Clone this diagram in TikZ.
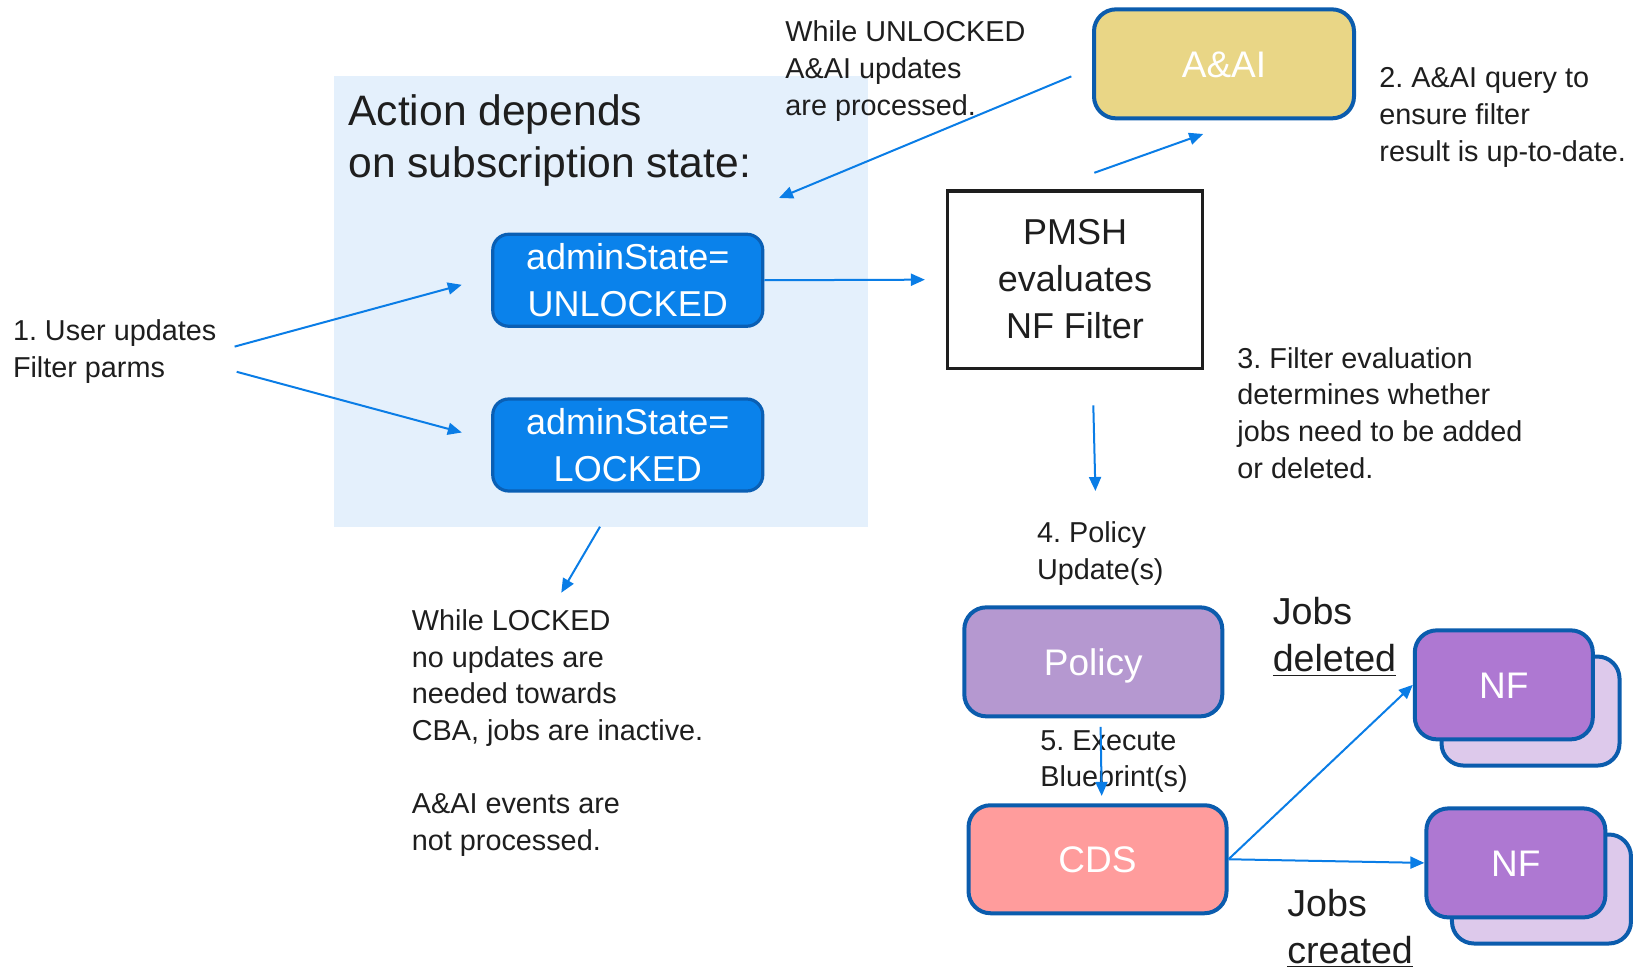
\documentclass[tikz,border=0pt]{standalone}
\usepackage{fontspec}
\setmainfont{Liberation Sans}
\usetikzlibrary{arrows.meta}
\frenchspacing
\definecolor{txt}{HTML}{1E1E1E}
\definecolor{arrowblue}{HTML}{0A7DE6}
\definecolor{bgblue}{HTML}{E4F0FC}
\definecolor{stateblue}{HTML}{0A82EB}
\definecolor{stateborder}{HTML}{0A5FB4}
\definecolor{boxborder}{HTML}{0B5CAD}
\definecolor{aaifill}{HTML}{E9D686}
\definecolor{policyfill}{HTML}{B598D0}
\definecolor{cdsfill}{HTML}{FF9C9C}
\definecolor{nffront}{HTML}{AE78D2}
\definecolor{nfback}{HTML}{DDC9EB}
\tikzset{
  flow/.style={draw=arrowblue, line width=1pt, -{Triangle[length=7pt,width=6pt]}},
  note/.style={anchor=west, align=left, inner sep=0pt, text=txt, font=\fontsize{14.4pt}{18.35pt}\selectfont},
  statebox/.style={draw=stateborder, line width=1.6pt, fill=stateblue, rounded corners=8pt, text=white,
    minimum width=135pt, minimum height=46pt, align=center, inner sep=0pt,
    font=\fontsize{18pt}{23.5pt}\selectfont},
  compbox/.style={draw=boxborder, line width=2pt, rounded corners=11pt, text=white,
    minimum height=54.5pt, align=center, inner sep=0pt, text height=13.4pt, text depth=0pt,
    font=\fontsize{18.5pt}{23pt}\selectfont},
}
\begin{document}
\begin{tikzpicture}[x=0.5pt,y=-0.5pt]
\useasboundingbox (0,0) rectangle (1642,968);
% background panel
\fill[bgblue] (334,76) rectangle (868,527);
\node[note, font=\fontsize{21.3pt}{26pt}\selectfont] (title) at (348,140) {Action depends\\on subscription state:};

% state boxes
\node[statebox] (unl) at (627.75,280.25) {adminState=\\UNLOCKED};
\node[statebox] (lck) at (627.75,445) {adminState=\\LOCKED};

% PMSH
\node[draw=txt, line width=1.6pt, fill=white, minimum width=127.5pt, minimum height=88.5pt,
  align=center, inner sep=0pt, text=txt, font=\fontsize{18pt}{23.5pt}\selectfont]
  (pmsh) at (1075,279.6) {PMSH\\evaluates\\NF Filter};

% components
\node[compbox, fill=aaifill, minimum width=130pt] (aai) at (1224,63.85) {A\&AI};
\node[compbox, fill=policyfill, minimum width=129pt] (pol) at (1093.3,661.85) {Policy};
\node[compbox, fill=cdsfill, minimum width=129pt, minimum height=54pt] (cds) at (1097.5,859.25) {CDS};

% NF stacks
\node[compbox, fill=nfback, minimum width=89pt] (nf1b) at (1530.5,711.05) {};
\node[compbox, fill=nffront, minimum width=89pt] (nf1) at (1503.8,684.85) {NF};
\node[compbox, fill=nfback, minimum width=89.5pt] (nf2b) at (1541.45,889) {};
\node[compbox, fill=nffront, minimum width=89.5pt] (nf2) at (1515.85,862.9) {NF};

% notes
\node[note] (user) at (12.6,351.3) {1. User updates\\Filter parms};
\node[note] (unlnote) at (785,71) {While UNLOCKED\\A\&AI updates\\are processed.};
\node[note] (q2) at (1379,117.4) {2. A\&AI query to\\ensure filter\\result is up-to-date.};
\node[note] (q3) at (1237,412.8) {3. Filter evaluation\\determines whether\\jobs need to be added\\or deleted.};
\node[note] (q4) at (1036.7,553.3) {4. Policy\\Update(s)};
\node[note] (q5) at (1040,761.7) {5. Execute\\Blueprint(s)};
\node[note] (lcknote) at (411.5,733) {While LOCKED\\no updates are\\needed towards\\CBA, jobs are inactive.\\[18.35pt]A\&AI events are\\not processed.};
\node[note, font=\fontsize{18.8pt}{23.5pt}\selectfont] (jdel) at (1272.4,637) {Jobs\\\underline{deleted}};
\node[note, font=\fontsize{18.8pt}{23.5pt}\selectfont] (jcre) at (1287,928.2) {Jobs\\\underline{created}};

% free connector ends
\coordinate (u1s) at (234.6,346.6);
\coordinate (u1e) at (461.8,284.8);
\coordinate (u2s) at (236.7,371.8);
\coordinate (u2e) at (461.8,432.5);
\coordinate (paS) at (1094.3,172.8);
\coordinate (paE) at (1203.2,134);
\coordinate (abS) at (1071.3,76.4);
\coordinate (abE) at (779,198);
\coordinate (lkS) at (600,526.7);
\coordinate (lkE) at (561.3,592.7);
\coordinate (pdS) at (1093.3,405.3);
\coordinate (pdE) at (1095.4,491);
\coordinate (pcS) at (1100.6,726.8);
\coordinate (pcE) at (1101.7,795.9);

% connectors
\draw[flow] (u1s) -- (u1e);
\draw[flow] (u2s) -- (u2e);
\draw[flow, shorten >=10.5pt] (unl.east) -- (pmsh.west);
\draw[flow] (paS) -- (paE);
\draw[flow] (abS) -- (abE);
\draw[flow] (lkS) -- (lkE);
\draw[flow] (pdS) -- (pdE);
\draw[flow] (pcS) -- (pcE);
\draw[flow] (cds.east) -- (nf1.west);
\draw[flow] (cds.east) -- (nf2.west);
\end{tikzpicture}
\end{document}
